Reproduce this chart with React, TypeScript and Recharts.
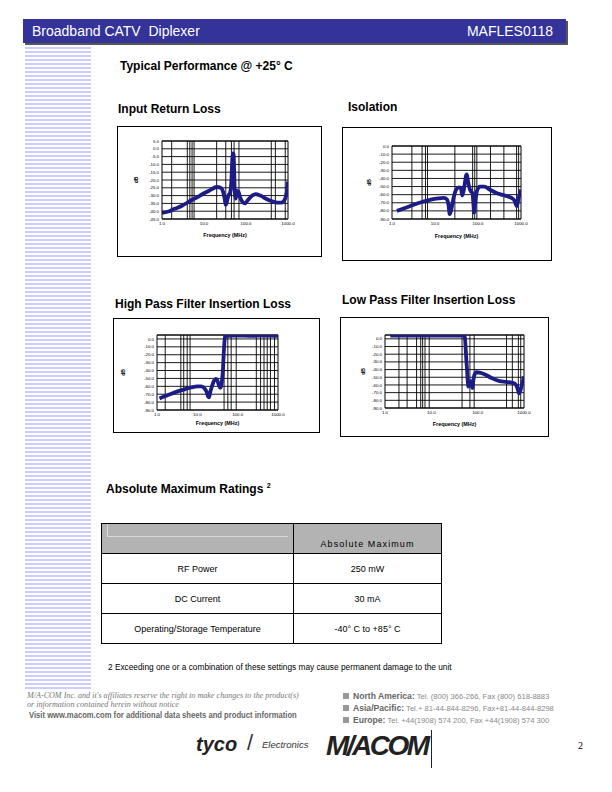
import React from 'react';
import { LineChart, Line, XAxis, YAxis, CartesianGrid, ReferenceLine, Label } from 'recharts';

const SANS = '"Liberation Sans", Arial, sans-serif';
const SERIF = '"Liberation Serif", "Times New Roman", serif';
const NAVY = '#1c1c86';

const freqTicks = [1, 10, 100, 1000];

// Input Return Loss
const irlFreq = [1, 1.5, 2, 3, 5, 7, 10, 14, 20, 25, 28, 31, 33, 35, 38, 42, 45, 47, 49, 50.5, 52, 54, 57, 62, 66, 72, 82, 95, 110, 140, 170, 220, 300, 400, 550, 700, 820, 900, 960, 1000];
const irlDb = [-41, -40, -38.5, -36.5, -33, -31, -28.5, -26.5, -24.5, -25, -27, -32, -36, -34, -30, -28, -20, -8, -3, -3, -12, -28, -32, -27, -27.5, -31, -34, -35, -33, -30, -29, -30, -32, -33.5, -34.5, -34.5, -33, -30, -26, -21];
const irlTicks = [5, 0, -5, -10, -15, -20, -25, -30, -35, -40, -45];
const irlGrid = [1.7, 4, 4.6, 5.2, 5.8, 20, 33, 45, 52, 68, 400, 500, 860];

// Isolation
const isoFreq = [1.3, 2, 3, 5, 8, 12, 16, 19, 20.5, 22, 24, 27, 31, 36, 40, 43, 46, 50, 53, 55, 58, 62, 68, 74, 78, 81, 86, 95, 110, 140, 190, 260, 350, 480, 600, 700, 760, 800, 850, 920, 1000];
const isoDb = [-80, -76.5, -73, -69, -66, -64.5, -64, -66, -72, -84, -78, -64, -54, -51, -52, -61, -56, -44, -36, -35, -42, -50, -56, -58, -70, -82, -70, -55, -50, -50, -54, -57.5, -60, -62, -64, -67, -72, -74, -68, -60, -54];
const isoTicks = [0, -10, -20, -30, -40, -50, -60, -70, -80, -90];
const isoGrid = [2.9, 5, 6, 6.7, 29, 75, 84, 94, 195, 400, 790, 880];

// High Pass Filter Insertion Loss
const hpfFreq = [1.15, 1.5, 2, 3, 5, 7, 10, 12.5, 15, 17, 18.5, 19.5, 21, 23, 26, 28.5, 31, 34, 37, 39, 41, 43, 45, 47, 49, 52, 60, 100, 200, 500, 1000];
const hpfDb = [-75.5, -73, -70.5, -67, -63.5, -61.5, -60, -60, -62.5, -67, -73, -74, -67, -60, -53, -50.5, -52, -58, -62, -60, -52, -40, -20, -4, 3.5, 4, 4, 4.2, 4, 4.2, 4];
const hpfTicks = [0, -10, -20, -30, -40, -50, -60, -70, -80, -90];
const hpfGrid = [1.6, 3.9, 4.6, 5.6, 6.6, 46, 57, 69, 92, 290, 370, 450, 540, 650, 820];

// Low Pass Filter Insertion Loss
const lpfFreq = [1.3, 2, 5, 10, 20, 40, 50, 53, 55, 57, 59, 61, 63, 66, 70, 74, 77, 80, 85, 95, 110, 140, 200, 300, 400, 550, 650, 720, 780, 830, 900, 1000];
const lpfDb = [4.3, 4.3, 4.3, 4.3, 4.3, 4.3, 4.2, 2, -12, -28, -40, -55, -62, -56, -55, -60, -64, -56, -47, -43.5, -44, -46, -51, -55, -56, -57, -59, -64, -71, -68, -60, -49];
const lpfTicks = [0, -10, -20, -30, -40, -50, -60, -70, -80, -90];
const lpfGrid = [2, 3, 4.8, 5.9, 6.5, 7.3, 9, 46, 68, 84, 420, 560, 755, 850];

const ratingNames = ['RF Power', 'DC Current', 'Operating/Storage Temperature'];
const ratingValues = ['250 mW', '30 mA', '-40° C to +85° C'];

const fmt = (v: number) => v.toFixed(1);

type Box = { x: number; y: number; w: number; h: number };
type Plot = { x1: number; x2: number; y1: number; y2: number };

interface PerfChartProps {
  freq: number[];
  db: number[];
  yTicks: number[];
  yDomain: [number, number];
  grid: number[];
  box: Box;
  plot: Plot;
  axisHeight: number;
  dbX: number;
}

const PerfChart = ({ freq, db, yTicks, yDomain, grid, box, plot, axisHeight, dbX }: PerfChartProps) => {
  const data = freq.map((f, i) => ({ f, db: db[i] }));
  const margin = {
    top: plot.y1 - box.y,
    right: box.x + box.w - plot.x2,
    bottom: box.y + box.h - plot.y2 - axisHeight,
    left: 0,
  };
  const tickStyle = { fontSize: 4.4, fill: '#000', fontFamily: SANS };
  return (
    <>
      <div style={{ position: 'absolute', left: box.x, top: box.y, width: box.w, height: box.h, border: '1px solid #000', boxSizing: 'border-box', background: '#fff' }} />
      <div style={{ position: 'absolute', left: box.x, top: box.y }}>
        <LineChart width={box.w} height={box.h} data={data} margin={margin}>
          <CartesianGrid vertical={false} stroke="#000" strokeWidth={0.9} />
          {grid.map((g) => (
            <ReferenceLine key={g} x={g} stroke="#000" strokeWidth={0.9} />
          ))}
          <ReferenceLine x={1000} stroke="#000" strokeWidth={1} />
          <ReferenceLine y={yDomain[1]} stroke="#000" strokeWidth={1} />
          <XAxis
            dataKey="f"
            type="number"
            scale="log"
            domain={[1, 1000]}
            allowDataOverflow
            ticks={freqTicks}
            interval={0}
            tickFormatter={fmt}
            tick={tickStyle}
            tickLine={false}
            tickSize={0}
            tickMargin={3}
            axisLine={{ stroke: '#000' }}
            height={axisHeight}
          >
            <Label value="Frequency (MHz)" position="insideBottom" offset={0} style={{ fontSize: 5.4, fontWeight: 'bold', fill: '#000', fontFamily: SANS }} />
          </XAxis>
          <YAxis
            type="number"
            domain={yDomain}
            allowDataOverflow
            ticks={yTicks}
            interval={0}
            tickFormatter={fmt}
            tick={tickStyle}
            tickLine={false}
            tickSize={0}
            tickMargin={3}
            axisLine={{ stroke: '#000' }}
            width={plot.x1 - box.x}
          >
            <Label value="dB" angle={-90} position="insideLeft" offset={dbX - box.x} style={{ fontSize: 5, fontWeight: 'bold', fill: '#000', fontFamily: SANS, textAnchor: 'middle' }} />
          </YAxis>
          <Line dataKey="db" type="monotone" stroke={NAVY} strokeWidth={3.8} dot={false} isAnimationActive={false} />
        </LineChart>
      </div>
    </>
  );
};

const Txt = ({ x, y, size, children, style }: { x: number; y: number; size: number; children: React.ReactNode; style?: React.CSSProperties }) => (
  <div style={{ position: 'absolute', left: x, top: y - size / 2, fontSize: size, lineHeight: `${size}px`, fontFamily: SANS, whiteSpace: 'nowrap', ...style }}>
    {children}
  </div>
);

const contacts = [
  { region: 'North America:', text: ' Tel. (800) 366-266, Fax (800) 618-8883' },
  { region: 'Asia/Pacific:', text: ' Tel.+ 81-44-844-8296, Fax+81-44-844-8298' },
  { region: 'Europe:', text: ' Tel. +44(1908) 574 200, Fax +44(1908) 574 300' },
];

export default function App() {
  return (
    <div style={{ position: 'absolute', left: 0, top: 0, width: 612, height: 792, background: '#fff', overflow: 'hidden', fontFamily: SANS }}>
      {/* header bar */}
      <div style={{ position: 'absolute', left: 25, top: 21, width: 543, height: 24, background: '#555' }} />
      <div style={{ position: 'absolute', left: 23, top: 19, width: 543, height: 24, background: '#333399', color: '#fff', fontSize: 14 }}>
        <span style={{ position: 'absolute', left: 9, top: 4 }}>Broadband CATV&nbsp; Diplexer</span>
        <span style={{ position: 'absolute', right: 13, top: 4 }}>MAFLES0118</span>
      </div>
      {/* side stripes */}
      <div style={{ position: 'absolute', left: 25, top: 47, width: 66, height: 644, background: 'repeating-linear-gradient(to bottom, #ccccff 0px, #ccccff 2px, #ffffff 2px, #ffffff 4px)' }} />

      <Txt x={120} y={66} size={12} style={{ fontWeight: 'bold' }}>Typical Performance @ +25° C</Txt>
      <Txt x={118} y={109} size={12} style={{ fontWeight: 'bold' }}>Input Return Loss</Txt>
      <Txt x={348} y={107} size={12} style={{ fontWeight: 'bold' }}>Isolation</Txt>
      <Txt x={115} y={304} size={12} style={{ fontWeight: 'bold' }}>High Pass Filter Insertion Loss</Txt>
      <Txt x={342} y={300} size={12} style={{ fontWeight: 'bold' }}>Low Pass Filter Insertion Loss</Txt>

      <PerfChart freq={irlFreq} db={irlDb} yTicks={irlTicks} yDomain={[-45, 5]} grid={irlGrid}
        box={{ x: 117, y: 126, w: 205, h: 131 }} plot={{ x1: 162, x2: 288, y1: 141, y2: 219 }} axisHeight={18} dbX={136} />
      <PerfChart freq={isoFreq} db={isoDb} yTicks={isoTicks} yDomain={[-90, 0]} grid={isoGrid}
        box={{ x: 342, y: 127, w: 210, h: 134 }} plot={{ x1: 392, x2: 521, y1: 146, y2: 219 }} axisHeight={19} dbX={369} />
      <PerfChart freq={hpfFreq} db={hpfDb} yTicks={hpfTicks} yDomain={[-90, 5]} grid={hpfGrid}
        box={{ x: 113, y: 318, w: 207, h: 115 }} plot={{ x1: 157, x2: 278, y1: 335, y2: 410 }} axisHeight={15} dbX={123} />
      <PerfChart freq={lpfFreq} db={lpfDb} yTicks={lpfTicks} yDomain={[-90, 5]} grid={lpfGrid}
        box={{ x: 340, y: 317, w: 209, h: 120 }} plot={{ x1: 385, x2: 524, y1: 335, y2: 408 }} axisHeight={18} dbX={363} />

      {/* ratings */}
      <Txt x={106} y={489} size={12} style={{ fontWeight: 'bold' }}>
        Absolute Maximum Ratings <sup style={{ fontSize: 7, verticalAlign: 'top', position: 'relative', top: -3 }}>2</sup>
      </Txt>
      <div style={{ position: 'absolute', left: 101, top: 523, width: 340, borderTop: '1px solid #000', borderLeft: '1px solid #000' }}>
        <div style={{ display: 'flex', height: 30, background: '#b3b3b3', borderBottom: '1px solid #000', boxSizing: 'border-box', position: 'relative' }}>
          <div style={{ width: 192, borderRight: '1px solid #000', boxSizing: 'border-box', position: 'relative' }}>
            <div style={{ position: 'absolute', left: 5, top: 0, width: 180, height: 12, borderLeft: '1px solid #d8d8d8', borderBottom: '1px solid #d8d8d8' }} />
          </div>
          <div style={{ flex: 1, borderRight: '1px solid #000', fontSize: 9, letterSpacing: 1.1, textAlign: 'center', paddingTop: 15, boxSizing: 'border-box' }}>Absolute Maximum</div>
        </div>
        {ratingNames.map((n, i) => (
          <div key={n} style={{ display: 'flex', height: 30, borderBottom: '1px solid #000', boxSizing: 'border-box', fontSize: 9 }}>
            <div style={{ width: 192, borderRight: '1px solid #000', boxSizing: 'border-box', textAlign: 'center', lineHeight: '30px' }}>{n}</div>
            <div style={{ flex: 1, borderRight: '1px solid #000', boxSizing: 'border-box', textAlign: 'center', lineHeight: '30px' }}>{ratingValues[i]}</div>
          </div>
        ))}
      </div>

      <Txt x={108} y={667} size={8.3}>2 Exceeding one or a combination of these settings may cause permanent damage to the unit</Txt>

      {/* footer */}
      <Txt x={27} y={696} size={8.1} style={{ fontFamily: SERIF, fontStyle: 'italic', color: '#777' }}>M/A-COM Inc. and it's affiliates reserve the right to make changes to the product(s)</Txt>
      <Txt x={27} y={705} size={8.1} style={{ fontFamily: SERIF, fontStyle: 'italic', color: '#777' }}>or information contained herein without notice</Txt>
      <Txt x={29} y={715} size={9} style={{ fontWeight: 'bold', color: '#666', transform: 'scaleX(0.85)', transformOrigin: 'left center' }}>Visit www.macom.com for additional data sheets and product information</Txt>
      {contacts.map((c, i) => (
        <Txt key={c.region} x={343} y={696 + i * 12} size={8.6} style={{ color: '#888' }}>
          <span style={{ display: 'inline-block', width: 6, height: 6, background: '#999', marginRight: 4 }} />
          <b style={{ color: '#666' }}>{c.region}</b>
          <span style={{ fontSize: 7.6 }}>{c.text}</span>
        </Txt>
      ))}
      <Txt x={196} y={744} size={20} style={{ fontWeight: 'bold', fontStyle: 'italic', color: '#222' }}>tyco</Txt>
      <Txt x={247} y={743} size={22} style={{ fontFamily: SANS, color: '#333', fontWeight: 'normal' }}>/</Txt>
      <Txt x={262} y={745} size={9.5} style={{ fontStyle: 'italic', color: '#333' }}>Electronics</Txt>
      <Txt x={326} y={746} size={28} style={{ fontWeight: 'bold', fontStyle: 'italic', letterSpacing: -2.5, color: '#222' }}>M/ACOM</Txt>
      <div style={{ position: 'absolute', left: 431, top: 730, width: 1, height: 38, background: '#222' }} />
      <Txt x={578} y={746} size={10} style={{ fontFamily: SERIF }}>2</Txt>
    </div>
  );
}
